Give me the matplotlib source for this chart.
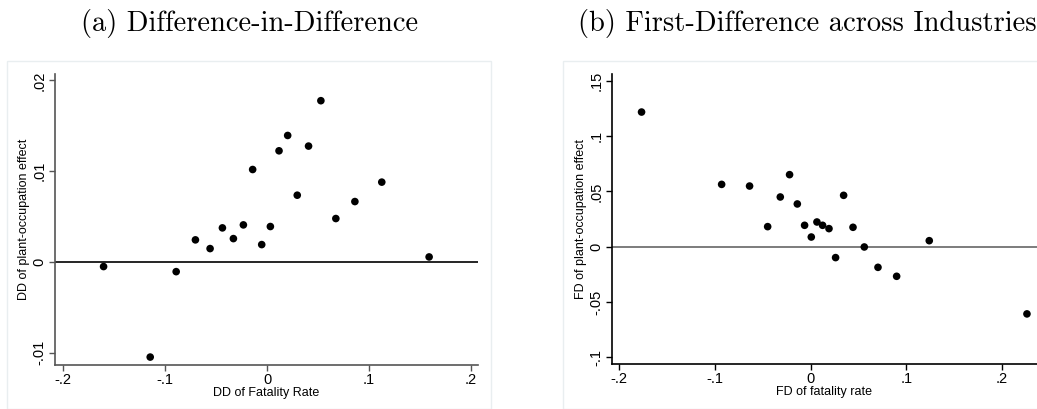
import matplotlib
matplotlib.use("Agg")
import matplotlib.pyplot as plt
from matplotlib.patches import Rectangle

# Panel (a): Difference-in-Difference
dd_fatality = [-0.1605, -0.1147, -0.0892, -0.0703, -0.0559, -0.0438, -0.0330, -0.0232,
               -0.0141, -0.0052, 0.0033, 0.0118, 0.0203, 0.0297, 0.0408, 0.0529,
               0.0676, 0.0863, 0.1127, 0.1592]
dd_effect = [-0.00051, -0.01048, -0.00107, 0.00243, 0.00147, 0.00375, 0.00257, 0.00408,
             0.01018, 0.00191, 0.00390, 0.01224, 0.01393, 0.00735, 0.01276, 0.01776,
             0.00478, 0.00665, 0.00879, 0.00055]

# Panel (b): First-Difference across Industries
fd_fatality = [-0.1767, -0.0930, -0.0638, -0.0449, -0.0317, -0.0220, -0.0139, -0.0063,
               0.0007, 0.0066, 0.0125, 0.0192, 0.0261, 0.0345, 0.0443, 0.0561,
               0.0704, 0.0899, 0.1240, 0.2261]
fd_effect = [0.1217, 0.0563, 0.0548, 0.0181, 0.0449, 0.0651, 0.0386, 0.0193,
             0.0087, 0.0223, 0.0193, 0.0163, -0.0099, 0.0464, 0.0175, -0.0003,
             -0.0187, -0.0268, 0.0054, -0.0608]

x_ticks = [-0.2, -0.1, 0.0, 0.1, 0.2]
x_ticklabels = ["-.2", "-.1", "0", ".1", ".2"]
dd_yticks = [-0.01, 0.0, 0.01, 0.02]
dd_yticklabels = ["-.01", "0", ".01", ".02"]
fd_yticks = [-0.1, -0.05, 0.0, 0.05, 0.1, 0.15]
fd_yticklabels = ["-.1", "-.05", "0", ".05", ".1", ".15"]

W, H = 1037, 409
fig = plt.figure(figsize=(W / 100, H / 100), dpi=100)
fig.patch.set_facecolor("white")

sans = ["Liberation Sans", "DejaVu Sans"]

# light frames around each graph region
for (fx, fw) in [(7, 484), (563, 484)]:
    fig.patches.append(Rectangle((fx / W, 0), fw / W, (H - 61) / H,
                                 transform=fig.transFigure, fill=False,
                                 edgecolor="#e9eef0", lw=1.0, zorder=0))

def make_panel(rect, x, y, xlim, ylim, yticks, yticklabels, xlabel, ylabel,
               spine_color, zero_color):
    ax = fig.add_axes(rect)
    ax.set_facecolor("none")
    ax.scatter(x, y, s=30, color="black", edgecolors="none", zorder=3)
    ax.axhline(0, color=zero_color, lw=1.2, zorder=2)
    ax.set_xlim(*xlim)
    ax.set_ylim(*ylim)
    ax.set_xticks(x_ticks)
    ax.set_xticklabels(x_ticklabels, fontfamily=sans, fontsize=10.5)
    ax.set_yticks(yticks)
    ax.set_yticklabels(yticklabels, fontfamily=sans, fontsize=10.5, rotation=90,
                       va="center")
    for s in ["top", "right"]:
        ax.spines[s].set_visible(False)
    for s in ["left", "bottom"]:
        ax.spines[s].set_color(spine_color)
        ax.spines[s].set_linewidth(1.2)
    ax.tick_params(direction="out", length=4.5, width=1.0, color=spine_color, pad=1.5)
    ax.set_xlabel(xlabel, fontfamily=sans, fontsize=9, labelpad=0)
    ax.set_ylabel(ylabel, fontfamily=sans, fontsize=9, labelpad=2)
    return ax

# Left axes
lx0, lx1, ly0, ly1 = 55, 478, 74, 364.7
ax1 = make_panel([lx0 / W, (H - ly1) / H, (lx1 - lx0) / W, (ly1 - ly0) / H],
                 dd_fatality, dd_effect, (-0.2082, 0.2072), (-0.01132, 0.0207),
                 dd_yticks, dd_yticklabels, "DD of Fatality Rate",
                 "DD of plant-occupation effect", "#555555", "black")

# Right axes
rx0, rx1, ry0, ry1 = 611.7, 1037, 74, 364
ax2 = make_panel([rx0 / W, (H - ry1) / H, (rx1 - rx0) / W, (ry1 - ry0) / H],
                 fd_fatality, fd_effect, (-0.2079, 0.2366), (-0.1061, 0.1561),
                 fd_yticks, fd_yticklabels, "FD of fatality rate",
                 "FD of plant-occupation effect", "black", "#666666")

# Titles (LaTeX-like serif)
fig.text(250 / W, 1 - 24 / H, "(a) Difference-in-Difference", family="cmr10",
         fontsize=20.5, ha="center", va="center")
fig.text(807 / W, 1 - 24 / H, "(b) First-Difference across Industries", family="cmr10",
         fontsize=20.5, ha="center", va="center")

fig.savefig("out.png", dpi=100)
